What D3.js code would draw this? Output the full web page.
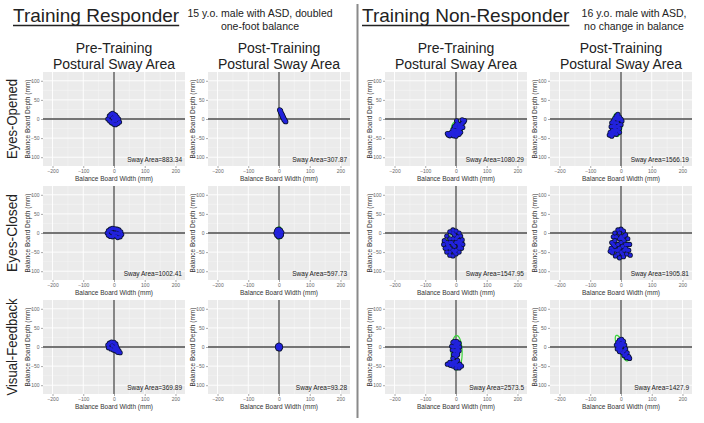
<!DOCTYPE html>
<html><head><meta charset="utf-8">
<script src="https://cdn.jsdelivr.net/npm/d3@7"></script>
<style>body{margin:0;background:#fff}svg{display:block}text{font-family:"Liberation Sans",Arial,sans-serif}</style>
</head><body><svg id="c" width="704" height="423"></svg>
<script>
// ---- data ----
const groupTitles = ["Training Responder", "Training Non-Responder"];
const groupNotes = [["15 y.o. male with ASD, doubled", "one-foot balance"], ["16 y.o. male with ASD,", "no change in balance"]];
const colHeaders = ["Pre-Training", "Post-Training", "Pre-Training", "Post-Training"];
const rowLabels = ["Eyes-Opened", "Eyes-Closed", "Visual-Feedback"];
const xTicks = [-200, -100, 0, 100, 200];
const yTicks = [-100, -50, 0, 50, 100];
const xMinor = [-150, -50, 50, 150];
const yMinor = [-75, -25, 25, 75];
const xTitle = "Balance Board Width (mm)";
const yTitle = "Balance Board Depth (mm)";

const respPreEO = [[-20,0],[-15,8],[-10,12],[-5,15],[0,12],[5,10],[10,5],[15,0],[18,-8],[12,-12],[5,-15],[0,-14],[-8,-10],[-14,-5],[0,0],[5,-5],[-5,3],[8,-2],[3,5],[-3,-6]];
const respPostEO = [[2,24],[4,20],[6,18],[8,14],[10,12],[12,8],[14,5],[15,2],[17,0],[19,-3],[20,-6],[22,-7],[10,10],[7,15],[13,4],[16,-2],[5,22],[11,6]];
const nonPreEO = [[-28,-38],[-25,-42],[-20,-44],[-15,-35],[-10,-28],[-5,-20],[0,-15],[5,-12],[10,-15],[15,-18],[20,-12],[25,-8],[28,-4],[22,-22],[15,-35],[10,-40],[0,-45],[-5,-40],[0,-30],[5,-28],[2,-5],[-2,-38],[8,-25],[20,-2],
  [-15,-40],[-10,-35],[-5,-30],[-20,-38],[10,-30],[15,-25],[5,-40],[10,-20],[0,-20],[-8,-44],[5,-35]];
const nonPostEO = [[-35,-35],[-38,-42],[-30,-45],[-25,-40],[-28,-30],[-32,-20],[-30,-10],[-25,-5],[-20,2],[-15,8],[-10,12],[-5,5],[0,0],[3,-5],[0,-15],[-5,-25],[-10,-30],[-18,-35],[-15,-20],[-12,-10],[-20,-25],[-8,-2],[-22,-15],
  [-25,-35],[-20,-30],[-15,-30],[-25,-20],[-20,-10],[-15,0],[-10,-20],[-5,-15],[-10,5],[-30,-40],[-15,-40],[-5,-35]];
const respPreEC = [[-22,0],[-18,6],[-12,10],[-5,12],[3,11],[10,10],[16,8],[22,3],[25,-4],[20,-10],[12,-12],[5,-8],[-5,-10],[-12,-9],[-18,-6],[0,0],[8,0],[-8,2],[15,-2],[-2,-5]];
const respPostEC = [[-8,5],[-5,9],[0,10],[5,7],[9,2],[8,-5],[4,-9],[-2,-10],[-7,-6],[-10,0],[0,0],[3,3],[-3,-3]];
const nonPreEC = [[-38,-20],[-40,-30],[-35,-40],[-30,-50],[-20,-58],[-10,-60],[0,-55],[10,-50],[18,-40],[22,-30],[20,-18],[15,-8],[10,0],[0,5],[-10,8],[-20,3],[-30,-8],[-15,-25],[-5,-35],[5,-25],[-20,-40],[0,-15],[12,-35],[-28,-30],
  [-30,-25],[-20,-15],[-10,-15],[0,-25],[10,-20],[-25,-35],[-10,-45],[0,-45],[10,-30],[-5,-5],[-30,-40],[5,-10],[-20,-50],[-10,-30],[-5,-50],[10,-40],[-20,-25],[-10,0],[15,-25]];
const nonPostEC = [[-25,-10],[-30,-25],[-32,-40],[-28,-52],[-18,-60],[-5,-65],[8,-62],[18,-55],[25,-45],[28,-30],[22,-15],[15,-5],[8,5],[0,10],[-10,8],[-20,0],[-10,-30],[5,-35],[-15,-45],[10,-20],[0,-50],[-5,-15],[15,-40],[30,-58],[-35,-48],
  [-20,-20],[-20,-35],[-5,-40],[10,-45],[20,-30],[0,-25],[-5,0],[10,-8],[-25,-30],[-10,-55],[5,-55],[15,-30],[20,-45],[-15,-10],[0,-10],[-10,-45],[-25,-45],[5,-15]];
const respPreVF = [[-20,5],[-15,10],[-8,13],[0,12],[6,8],[8,2],[12,-5],[16,-10],[20,-15],[12,-14],[5,-10],[-2,-8],[-10,-5],[-18,-2],[0,0],[-6,4],[4,-3]];
const respPostVF = [[-4,3],[0,5],[4,3],[5,-1],[2,-5],[-3,-4],[-5,0],[0,0]];
const nonPreVF = [[-10,12],[-5,15],[3,14],[10,10],[12,0],[10,-10],[5,-20],[0,-25],[-8,-20],[-12,-8],[-14,2],[0,0],[3,-8],[-3,5],[-10,-30],[-5,-38],[5,-35],[12,-45],[18,-50],[10,-55],[0,-55],[-10,-50],[-18,-48],[-28,-45],[-20,-40],[5,-48],[-5,-45],
  [0,-10],[5,-5],[-5,-10],[-8,0],[5,5],[0,-40],[-10,-40],[10,-48],[-15,-44],[0,-48],[5,-15],[-5,-18],[0,8]];
const nonPostVF = [[-10,12],[-5,18],[2,20],[8,15],[12,5],[15,-5],[20,-15],[25,-25],[18,-28],[10,-22],[5,-15],[-5,-12],[-12,-5],[-15,5],[0,0],[5,5],[-3,-3],[28,-30],
  [0,10],[5,10],[-5,5],[10,-10],[15,-20],[0,-8],[-8,0],[-5,-8]];

// row-major: rows EO, EC, VF; columns respPre, respPost, nonPre, nonPost
const panelPoints = [respPreEO, respPostEO, nonPreEO, nonPostEO, respPreEC, respPostEC, nonPreEC, nonPostEC, respPreVF, respPostVF, nonPreVF, nonPostVF];
const swayAreas = ["883.34", "307.87", "1080.29", "1566.19", "1002.41", "597.73", "1547.95", "1905.81", "369.89", "93.28", "2573.5", "1427.9"];
// confidence ellipses: [cx, cy, rx, ry, angle(deg)]
const ellipses = [[0,-2,16,16,0],[10,9,5,20,35],[3,-25,18,19,0],[-13,-15,16,31,0],[0,0,24,13,0],[0,0,12,16,0],[-8,-25,22,22,0],[-3,-25,22,28,0],[0,0,10,12,30],[0,0,5,6,0],[2,-15,18,45,0],[3,-3,12,38,30]];

// ---- layout ----
const colLeft = [43, 208, 385, 550];
const rowTop = [72, 186, 300];
const pw = 142, ph = 94;
const svg = d3.select("#c");
svg.append("rect").attr("width", 704).attr("height", 423).attr("fill", "#fff");

// titles
const titleX = [13, 362];
groupTitles.forEach((t, i) => {
  const tx = svg.append("text").attr("x", titleX[i]).attr("y", 22).attr("font-size", 19).attr("fill", "#222").text(t);
  const w = tx.node().getComputedTextLength();
  svg.append("line").attr("x1", titleX[i]).attr("x2", titleX[i] + w).attr("y1", 25.5).attr("y2", 25.5).attr("stroke", "#222").attr("stroke-width", 1.3);
});
const noteX = [260, 634];
groupNotes.forEach((n, i) => {
  n.forEach((line, j) => svg.append("text").attr("x", noteX[i]).attr("y", 17 + j * 12.5).attr("text-anchor", "middle").attr("font-size", 10.5).attr("fill", "#222").text(line));
});
colHeaders.forEach((h, c) => {
  const cx = colLeft[c] + pw / 2;
  svg.append("text").attr("x", cx).attr("y", 53).attr("text-anchor", "middle").attr("font-size", 14).attr("fill", "#222").text(h);
  svg.append("text").attr("x", cx).attr("y", 69).attr("text-anchor", "middle").attr("font-size", 14).attr("fill", "#222").text("Postural Sway Area");
});
const rowLen = [80, 78, 97];
rowLabels.forEach((r, i) => {
  const cy = rowTop[i] + ph / 2;
  svg.append("text").attr("transform", `translate(17,${cy}) rotate(-90)`).attr("text-anchor", "middle")
    .attr("font-size", 15.5).attr("fill", "#222").attr("textLength", rowLen[i]).attr("lengthAdjust", "spacingAndGlyphs").text(r);
});
// separator
svg.append("line").attr("x1", 357.5).attr("x2", 357.5).attr("y1", 4).attr("y2", 418).attr("stroke", "#8a8a8a").attr("stroke-width", 2);

// panels
panelPoints.forEach((pts, k) => {
  const r = Math.floor(k / 4), c = k % 4;
  const x0 = colLeft[c], y0 = rowTop[r];
  const x = d3.scaleLinear().domain([-231, 231]).range([x0, x0 + pw]);
  const y = d3.scaleLinear().domain([-123, 123]).range([y0 + ph, y0]);
  const g = svg.append("g");
  g.append("rect").attr("x", x0).attr("y", y0).attr("width", pw).attr("height", ph).attr("fill", "#ebebeb");
  xMinor.forEach(v => g.append("line").attr("x1", x(v)).attr("x2", x(v)).attr("y1", y0).attr("y2", y0 + ph).attr("stroke", "#f7f7f7").attr("stroke-width", 0.5));
  yMinor.forEach(v => g.append("line").attr("y1", y(v)).attr("y2", y(v)).attr("x1", x0).attr("x2", x0 + pw).attr("stroke", "#f7f7f7").attr("stroke-width", 0.5));
  xTicks.forEach(v => g.append("line").attr("x1", x(v)).attr("x2", x(v)).attr("y1", y0).attr("y2", y0 + ph).attr("stroke", "#fff").attr("stroke-width", 0.9));
  yTicks.forEach(v => g.append("line").attr("y1", y(v)).attr("y2", y(v)).attr("x1", x0).attr("x2", x0 + pw).attr("stroke", "#fff").attr("stroke-width", 0.9));
  // zero axes
  g.append("line").attr("x1", x(0)).attr("x2", x(0)).attr("y1", y0).attr("y2", y0 + ph).attr("stroke", "#4a4a4a").attr("stroke-width", 1.3);
  g.append("line").attr("y1", y(0)).attr("y2", y(0)).attr("x1", x0).attr("x2", x0 + pw).attr("stroke", "#4a4a4a").attr("stroke-width", 1.3);
  // axes
  const ax = g.append("g").attr("transform", `translate(0,${y0 + ph})`).call(d3.axisBottom(x).tickValues(xTicks).tickSize(2).tickPadding(1.5));
  const ay = g.append("g").attr("transform", `translate(${x0},0)`).call(d3.axisLeft(y).tickValues(yTicks).tickSize(2).tickPadding(1.5));
  [ax, ay].forEach(a => {
    a.select(".domain").remove();
    a.selectAll("line").attr("stroke", "#555").attr("stroke-width", 0.5);
    a.selectAll("text").attr("font-size", 5).attr("fill", "#666").attr("font-family", '"Liberation Sans",Arial,sans-serif');
  });
  g.append("text").attr("x", x0 + pw / 2).attr("y", y0 + ph + 15).attr("text-anchor", "middle").attr("font-size", 6.5).attr("fill", "#333").text(xTitle);
  g.append("text").attr("transform", `translate(${x0 - 13},${y0 + ph / 2}) rotate(-90)`).attr("text-anchor", "middle").attr("font-size", 6.5).attr("fill", "#333").text(yTitle);
  // ellipse
  const [ecx, ecy, erx, ery, ang] = ellipses[k];
  const th = ang * Math.PI / 180;
  const ePts = d3.range(0, 65).map(i => {
    const p = i / 64 * 2 * Math.PI;
    const ex = erx * Math.cos(p), ey = ery * Math.sin(p);
    return [ecx + ex * Math.cos(th) - ey * Math.sin(th), ecy + ex * Math.sin(th) + ey * Math.cos(th)];
  });
  g.append("path").attr("d", d3.line().x(d => x(d[0])).y(d => y(d[1]))(ePts)).attr("fill", "none").attr("stroke", "#3ad63a").attr("stroke-width", 1.2);
  // points
  g.selectAll(".pd").data(pts).join("circle").attr("cx", d => x(d[0])).attr("cy", d => y(d[1])).attr("r", 2.6).attr("fill", "#0c1535");
  g.selectAll(".pb").data(pts).join("circle").attr("cx", d => x(d[0])).attr("cy", d => y(d[1])).attr("r", 1.8).attr("fill", "#2222dd");
  g.append("text").attr("x", x0 + pw - 3).attr("y", y0 + ph - 4).attr("text-anchor", "end").attr("font-size", 6.5).attr("fill", "#222").text("Sway Area=" + swayAreas[k]);
});
</script></body></html>
